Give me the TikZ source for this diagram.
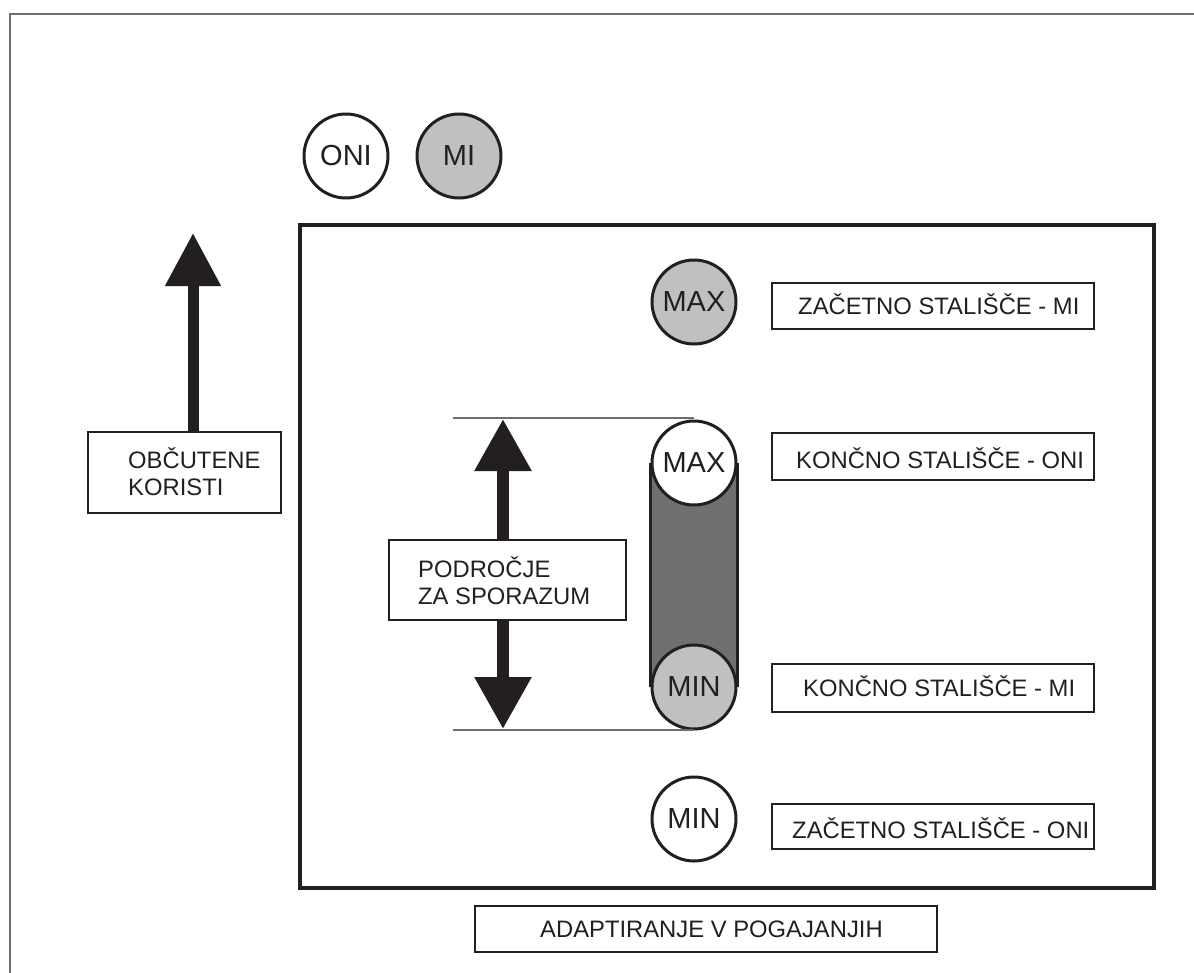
\documentclass[tikz,border=0pt]{standalone}
\usepackage{fontspec}
\setmainfont{Liberation Sans}
\usetikzlibrary{arrows.meta}
\definecolor{ink}{HTML}{231F20}
\definecolor{lgray}{HTML}{C0C0C0}
\definecolor{dgray}{HTML}{707070}
\definecolor{framegray}{HTML}{6D6D6D}
\pgfdeclarelayer{background}
\pgfsetlayers{background,main}
\begin{document}
\begin{tikzpicture}[x=1pt,y=-1pt,
  circ/.style={circle, draw=ink, line width=3pt, minimum size=84pt, inner sep=0pt,
    font=\fontsize{29}{31}\selectfont, text=ink},
  boxnode/.style={draw=ink, line width=2pt, fill=white, inner sep=0pt, anchor=north west},
  lbl/.style={font=\fontsize{23.8}{27}\selectfont, text=ink, inner sep=0pt, anchor=base west},
  thin/.style={draw=framegray, line width=1.2pt},
  bigarrow/.style={draw=ink, line width=12pt}
]
\useasboundingbox (0,0) rectangle (1194,972);
% outer frame (partly visible)
\draw[framegray, line width=2pt] (10,980) -- (10,14) -- (1200,14);

% main box
\node[draw=ink, line width=4pt, minimum width=854pt, minimum height=663pt,
  inner sep=0pt, anchor=north west] (main) at (298,223) {};

% legend circles
\node[circ, fill=white] (oni) at (346,156) {ONI};
\node[circ, fill=lgray] (mi) at (459,156) {MI};

% circles in box
\node[circ, fill=lgray] (maxmi) at (694,302) {MAX};
\node[circ, fill=white] (maxoni) at (694,463) {MAX};
\node[circ, fill=lgray] (minmi) at (694,687) {MIN};
\node[circ, fill=white] (minoni) at (694,819) {MIN};

% capsule behind the two circles
\begin{pgfonlayer}{background}
\fill[white] (0,0) rectangle (1194,972);
\fill[dgray] (maxoni.west) rectangle (minmi.east);
\draw[ink, line width=3pt] (maxoni.west) -- (minmi.west);
\draw[ink, line width=3pt] (maxoni.east) -- (minmi.east);
\end{pgfonlayer}

% labels on the right
\node[boxnode, minimum width=322pt, minimum height=46pt] (zmi) at (771,282) {};
\node[lbl] (zmit) at (798,314) {ZAČETNO STALIŠČE - MI};
\node[boxnode, minimum width=322pt, minimum height=47pt] (koni) at (771,432) {};
\node[lbl] (konit) at (796,468) {KONČNO STALIŠČE - ONI};
\node[boxnode, minimum width=322pt, minimum height=48pt] (kmi) at (771,663) {};
\node[lbl] (kmit) at (803,696) {KONČNO STALIŠČE - MI};
\node[boxnode, minimum width=322pt, minimum height=45pt] (zoni) at (771,803) {};
\node[lbl] (zonit) at (792,838) {ZAČETNO STALIŠČE - ONI};

% bottom label
\node[boxnode, minimum width=462pt, minimum height=46pt] (adapt) at (474,905) {};
\node[lbl] (adaptt) at (540,937) {ADAPTIRANJE V POGAJANJIH};

% range lines
\coordinate (rtop) at (453,418);
\coordinate (rbot) at (453,730);
\draw[thin] (rtop) -- (rtop -| maxoni.north);
\draw[thin] (rbot) -- (rbot -| minmi.south);

% double arrow
\coordinate (dtop) at (503,419);
\coordinate (dbot) at (503,729);
\draw[bigarrow, {Triangle[width=54pt,length=52pt]}-{Triangle[width=54pt,length=52pt]}] (dtop) -- (dbot);
\node[boxnode, minimum width=237pt, minimum height=80pt] (pod) at (388,539) {};
\node[lbl] (podt1) at (418,577) {PODROČJE};
\node[lbl] (podt2) at (418,604) {ZA SPORAZUM};

% left arrow
\node[boxnode, minimum width=193pt, minimum height=81pt] (obc) at (87,431) {};
\node[lbl] (obct1) at (128,468) {OBČUTENE};
\node[lbl] (obct2) at (128,495) {KORISTI};
\coordinate (ltip) at (193,233);
\draw[draw=ink, line width=11pt, -{Triangle[width=53pt,length=53pt]}] (ltip |- obc.north) -- (ltip);
\end{tikzpicture}
\end{document}
